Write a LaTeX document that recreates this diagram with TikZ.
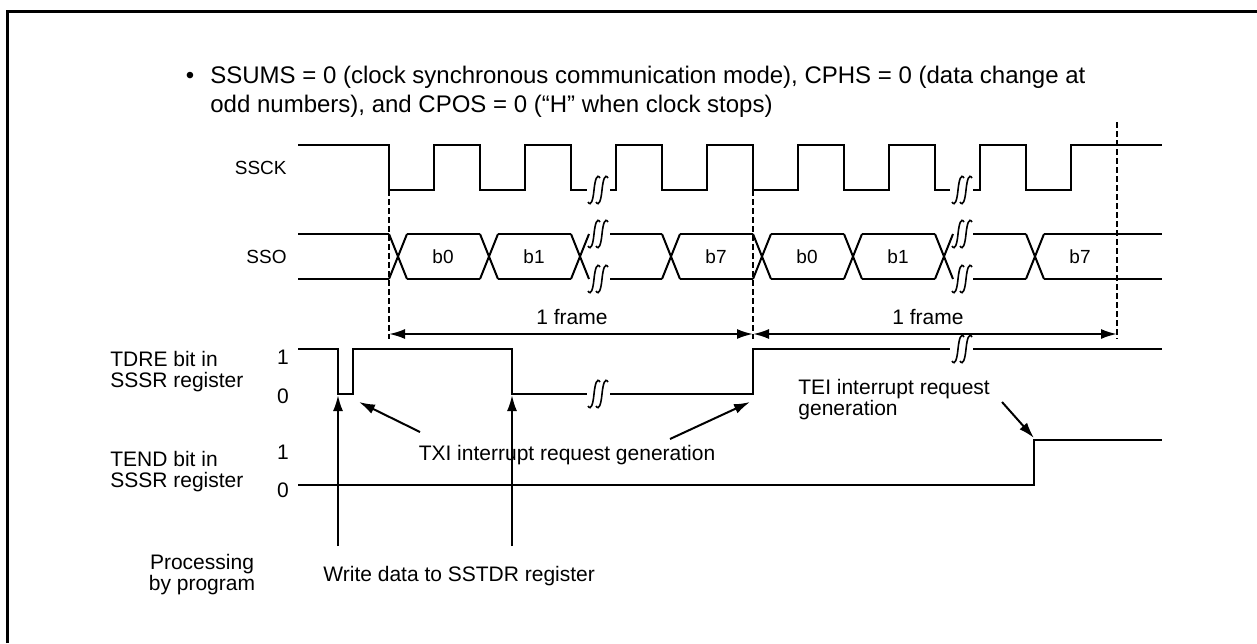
\documentclass[tikz,border=0pt]{standalone}
\usepackage{fontspec}
\setmainfont{Liberation Sans}
\usetikzlibrary{arrows.meta,positioning}

\begin{document}
\begin{tikzpicture}[
    x=0.5pt,y=-0.5pt,
    signal/.style={line width=1pt,line join=miter},
    guide/.style={line width=1pt,dash pattern=on 3pt off 1.5pt},
    pointer/.style={line width=1pt,-{Latex[length=8pt,width=5pt]}},
    span/.style={line width=1pt,{Latex[length=8pt,width=5pt]}-{Latex[length=8pt,width=5pt]}},
    tag/.style={font=\fontsize{10.5}{10.5}\selectfont,inner sep=0pt,align=left},
    small/.style={font=\fontsize{9.5}{11}\selectfont,inner sep=0pt},
    brk/.pic={
        \foreach \dx in {-4,4}
            \draw[line width=0.8pt] (\dx-6,12) .. controls (\dx-3,17) and (\dx-1,10) .. (\dx,0) .. controls (\dx+1,-10) and (\dx+3,-17) .. (\dx+6,-12);
    }
]
    \useasboundingbox (0,0) rectangle (1257,643);
    \draw[line width=1.5pt] (7,643) -- (7,11) -- (1257,11);

    % Condition text
    \node[anchor=base,inner sep=0pt,font=\fontsize{12}{14.5}\selectfont] (dot) at (190,83) {•};
    \node[anchor=base west,inner sep=0pt,align=left,font=\fontsize{12}{14.5}\selectfont] (cond) at (210,112) {SSUMS = 0 (clock synchronous communication mode), CPHS = 0 (data change at\\odd numbers), and CPOS = 0 (“H” when clock stops)};

    % Signal names
    \node[small,anchor=east] (ssck) at (287,168) {SSCK};
    \node[small,anchor=east] (sso) at (287,257) {SSO};
    \node[tag,anchor=base west] (tdre) at (110,387) {TDRE bit in\\SSSR register};
    \node[tag,anchor=base west] (tend) at (110,487) {TEND bit in\\SSSR register};
    \node[tag,align=center,anchor=base] (prog) at (202,590) {Processing\\by program};
    \node[tag] (tdre1) at (283,357) {1};
    \node[tag] (tdre0) at (283,396) {0};
    \node[tag] (tend1) at (283,452) {1};
    \node[tag] (tend0) at (283,490) {0};

    % SSCK
    \draw[signal] (298,145) -- (389,145) -- (389,190) -- (434,190) -- (434,145) -- (480,145) -- (480,190) -- (525,190) -- (525,145) -- (571,145) -- (571,190) -- (587,190);
    \draw[signal] (610,190) -- (616,190) -- (616,145) -- (662,145) -- (662,190) -- (707,190) -- (707,145) -- (753,145) -- (753,190) -- (798,190) -- (798,145) -- (844,145) -- (844,190) -- (889,190) -- (889,145) -- (935,145) -- (935,190) -- (950,190);
    \draw[signal] (973,190) -- (980,190) -- (980,145) -- (1026,145) -- (1026,190) -- (1071,190) -- (1071,145) -- (1162,145);

    % SSO
    \foreach \t in {389,480,571,662,753,844,935,1026}
        \draw[signal] (\t,234) -- (\t+18,279) (\t,279) -- (\t+18,234);
    \foreach \a/\b in {298/389,407/480,498/571,610/662,680/753,771/844,862/935,973/1026,1044/1162}
        \draw[signal] (\a,234) -- (\b,234) (\a,279) -- (\b,279);
    \foreach \x/\t [count=\i] in {443/b0,534/b1,716/b7,807/b0,898/b1,1080/b7}
        \node[small] (bit\i) at (\x,257) {\t};

    % Breaks
    \foreach \bx in {598,962} {
        \pic at (\bx,190) {brk};
        \pic at (\bx,234) {brk};
        \pic at (\bx,279) {brk};
    }
    \pic at (598,394) {brk};
    \pic at (962,349) {brk};

    % Frames
    \draw[guide] (389,190) -- (389,339);
    \draw[guide] (753,190) -- (753,339);
    \draw[guide] (1117,122) -- (1117,339);
    \coordinate (f0) at (389,334);
    \coordinate (f1) at (753,334);
    \coordinate (f2) at (1117,334);
    \draw[span] (f0) -- (f1);
    \draw[span] (f1) -- (f2);
    \node[tag,anchor=base] (fr1) at (572,324) {1 frame};
    \node[tag,anchor=base] (fr2) at (928,324) {1 frame};

    % TDRE and TEND
    \draw[signal] (298,349) -- (338,349) -- (338,394) -- (353,394) -- (353,349) -- (512,349) -- (512,394) -- (587,394);
    \draw[signal] (610,394) -- (753,394) -- (753,349) -- (950,349);
    \draw[signal] (973,349) -- (1162,349);
    \draw[signal] (298,485) -- (1034,485) -- (1034,440) -- (1162,440);

    % Interrupt requests
    \node[tag,anchor=base] (txi) at (567,460) {TXI interrupt request generation};
    \node[tag,anchor=base west] (tei) at (798,415) {TEI interrupt request\\generation};
    \coordinate (txiA) at (420,432);
    \coordinate (txiB) at (670,439);
    \coordinate (tp1) at (359,402);
    \coordinate (tp2) at (750,402);
    \coordinate (teiA) at (1002,402);
    \coordinate (teiT) at (1034,438);
    \draw[pointer] (txiA) -- (tp1);
    \draw[pointer] (txiB) -- (tp2);
    \draw[pointer] (teiA) -- (teiT);

    % Program writes
    \node[tag,anchor=base west] (wr) at (323,581) {Write data to SSTDR register};
    \coordinate (w1) at (338,546);
    \coordinate (w2) at (512,546);
    \coordinate (d1) at (338,395);
    \coordinate (d2) at (512,395);
    \draw[pointer] (w1) -- (d1);
    \draw[pointer] (w2) -- (d2);
\end{tikzpicture}
\end{document}
